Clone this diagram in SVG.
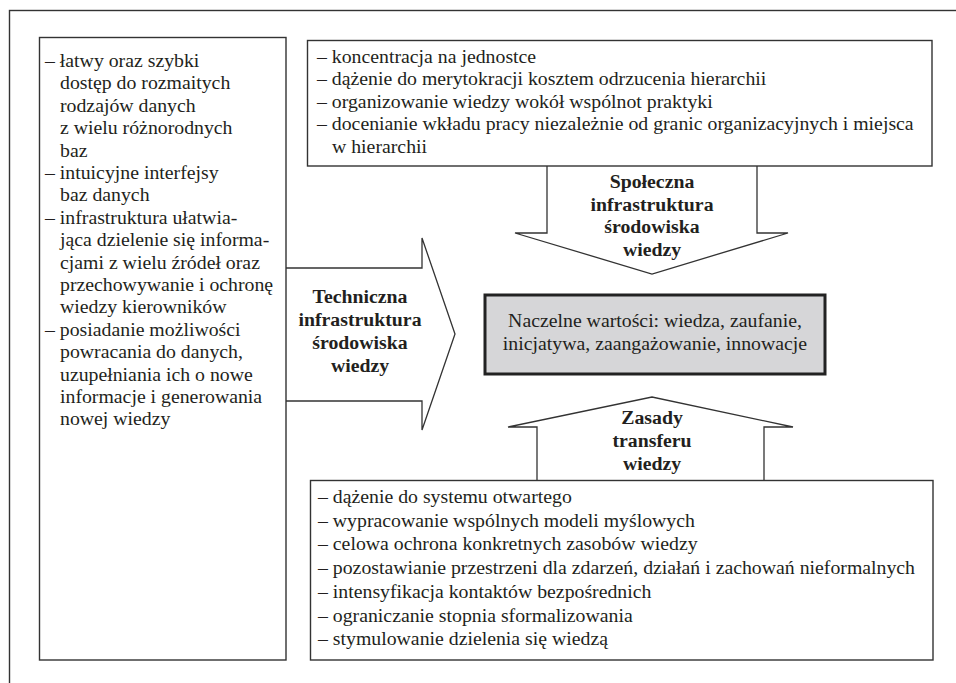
<svg xmlns="http://www.w3.org/2000/svg" width="956" height="683" viewBox="0 0 956 683">
<style>
.box{fill:#fff;stroke:#333;stroke-width:1.4}
.arr{fill:#fff;stroke:#333;stroke-width:1.3;stroke-linejoin:miter}
</style>
<rect x="9.5" y="10.5" width="970" height="700" fill="none" stroke="#333" stroke-width="1.4"/>

<g id="connectors">
  <path class="arr" d="M286,268 H422 V238 L455,334 L422,430 V401 H286"/>
  <path class="arr" d="M547,166 V233 H515 L652,274 L788,233 H757 V166"/>
  <path class="arr" d="M537,480 V427 H508 L652,397 L793,427 H764 V480"/>
  <g font-family="Liberation Serif, Times New Roman, serif" font-size="19.8" font-weight="bold" fill="#231f20" text-anchor="middle">
  <text x="360" y="303">Techniczna</text>
  <text x="360" y="326">infrastruktura</text>
  <text x="360" y="349">środowiska</text>
  <text x="360" y="372">wiedzy</text>
  <text x="652" y="188">Społeczna</text>
  <text x="652" y="210.5">infrastruktura</text>
  <text x="652" y="233">środowiska</text>
  <text x="652" y="255.5">wiedzy</text>
  <text x="652" y="424">Zasady</text>
  <text x="652" y="447">transferu</text>
  <text x="652" y="470">wiedzy</text>
  </g>
</g>

<g id="left-box" font-family="Liberation Serif, Times New Roman, serif" font-size="19.8" fill="#231f20">
  <rect class="box" x="39.5" y="37.5" width="246.5" height="622.5"/>
  <text x="45" y="67">– łatwy oraz szybki</text>
  <text x="60" y="89.4">dostęp do rozmaitych</text>
  <text x="60" y="111.8">rodzajów danych</text>
  <text x="60" y="134.2">z wielu różnorodnych</text>
  <text x="60" y="156.6">baz</text>
  <text x="45" y="179">– intuicyjne interfejsy</text>
  <text x="60" y="201.4">baz danych</text>
  <text x="45" y="223.8">– infrastruktura ułatwia-</text>
  <text x="60" y="246.2">jąca dzielenie się informa-</text>
  <text x="60" y="268.6">cjami z wielu źródeł oraz</text>
  <text x="60" y="291">przechowywanie i ochronę</text>
  <text x="60" y="313.4">wiedzy kierowników</text>
  <text x="45" y="335.8">– posiadanie możliwości</text>
  <text x="60" y="358.2">powracania do danych,</text>
  <text x="60" y="380.6">uzupełniania ich o nowe</text>
  <text x="60" y="403">informacje i generowania</text>
  <text x="60" y="425.4">nowej wiedzy</text>
</g>

<g id="top-box" font-family="Liberation Serif, Times New Roman, serif" font-size="19.8" fill="#231f20">
  <rect class="box" x="307.5" y="40.5" width="624.5" height="125.5"/>
  <text x="317" y="63">– koncentracja na jednostce</text>
  <text x="317" y="85.4">– dążenie do merytokracji kosztem odrzucenia hierarchii</text>
  <text x="317" y="107.8">– organizowanie wiedzy wokół wspólnot praktyki</text>
  <text x="317" y="130.2">– docenianie wkładu pracy niezależnie od granic organizacyjnych i miejsca</text>
  <text x="332" y="152.6">w hierarchii</text>
</g>

<g id="center-box" font-family="Liberation Serif, Times New Roman, serif" font-size="19.8" fill="#231f20" text-anchor="middle">
  <rect x="485" y="295" width="340" height="79" fill="#d6d6d8" stroke="#222" stroke-width="3"/>
  <text x="655" y="327">Naczelne wartości: wiedza, zaufanie,</text>
  <text x="655" y="350">inicjatywa, zaangażowanie, innowacje</text>
</g>

<g id="bottom-box" font-family="Liberation Serif, Times New Roman, serif" font-size="19.8" fill="#231f20">
  <rect class="box" x="310.5" y="480.5" width="622.5" height="179.5"/>
  <text x="318" y="503">– dążenie do systemu otwartego</text>
  <text x="318" y="526.7">– wypracowanie wspólnych modeli myślowych</text>
  <text x="318" y="550.4">– celowa ochrona konkretnych zasobów wiedzy</text>
  <text x="318" y="574.1">– pozostawianie przestrzeni dla zdarzeń, działań i zachowań nieformalnych</text>
  <text x="318" y="597.8">– intensyfikacja kontaktów bezpośrednich</text>
  <text x="318" y="621.5">– ograniczanie stopnia sformalizowania</text>
  <text x="318" y="645.2">– stymulowanie dzielenia się wiedzą</text>
</g>
</svg>
